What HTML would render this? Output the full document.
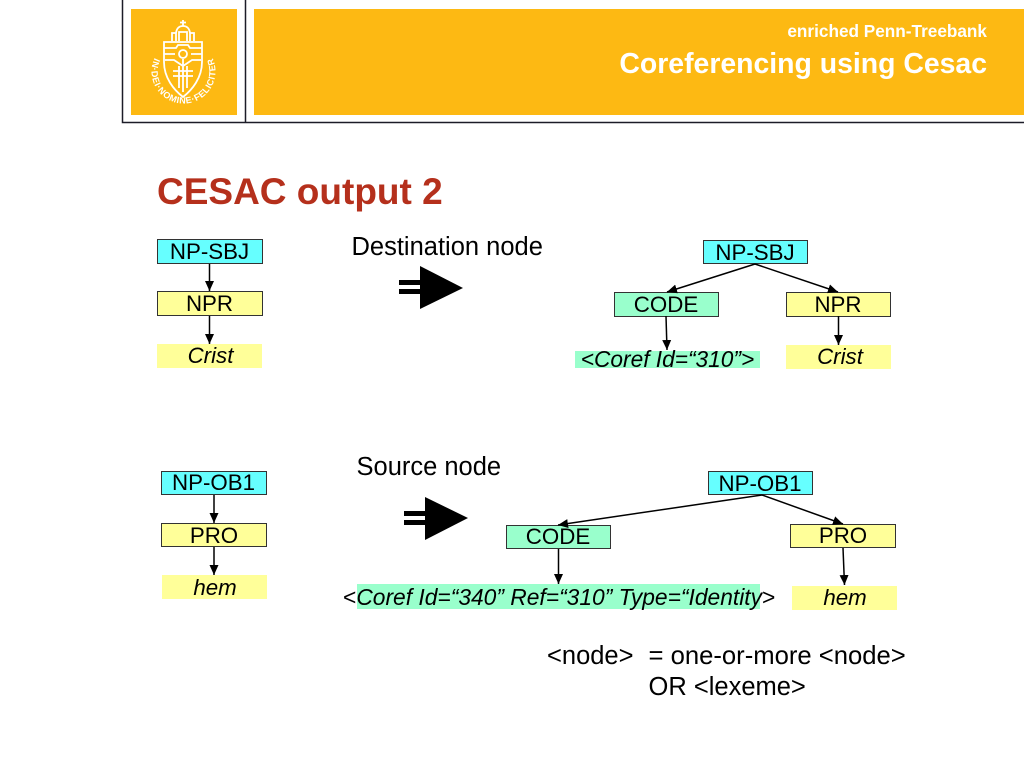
<!DOCTYPE html>
<html><head><meta charset="utf-8"><style>
html,body{margin:0;padding:0;background:#fff}
svg{display:block}
text{font-family:"Liberation Sans",sans-serif;fill:#000}
</style></head><body>
<svg width="1024" height="768" viewBox="0 0 1024 768" xmlns="http://www.w3.org/2000/svg">
<defs><marker id="a" markerWidth="12" markerHeight="12" refX="10" refY="5" orient="auto" markerUnits="userSpaceOnUse"><path d="M0 0.500L10 5L0 9.500Z" fill="#000"/></marker></defs>
<rect width="1024" height="768" fill="#fff"/>
<!-- header -->
<path d="M122.500 0V122.500H1024M245.500 0V122.500" fill="none" stroke="#1c1c28" stroke-width="1.500"/>
<rect x="131" y="9" width="106" height="106" fill="#fdb913"/>
<rect x="254" y="9" width="770" height="106" fill="#fdb913"/>
<!-- crest -->
<g fill="none" stroke="#fff" stroke-width="1.800">
<path d="M164 42H202V62C202 78 192 90 183 97C174 90 164 78 164 62Z"/>
<path d="M172 41V33H176V41M190 41V33H194V41M176 33Q177 26 183 26Q189 26 190 33M179 41V32H187V41"/>
<path d="M183 26V20M180 22.500H186"/>
<path d="M164 48H176L178 45H188L190 48H202M164 54H175M191 54H202M165 60H174L183 66L192 60H201M183 59V92M173 71H193M173 76H193M179 66V88M187 66V88"/>
<circle cx="183" cy="54" r="4"/>
</g>
<path id="ring" d="M155 57A32 32 0 1 0 212 57" fill="none"/>
<text font-size="9" font-weight="bold" style="fill:#fff"><textPath href="#ring" startOffset="1" textLength="128" lengthAdjust="spacing">IN·DEI·NOMINE·FELICITER</textPath></text>
<text x="987" y="37" font-size="17.200" font-weight="bold" text-anchor="end" style="fill:#fff">enriched Penn-Treebank</text>
<text x="987" y="73" font-size="28.400" font-weight="bold" text-anchor="end" style="fill:#fff">Coreferencing using Cesac</text>
<text x="157" y="204" font-size="37" font-weight="bold" style="fill:#b5301c">CESAC output 2</text>
<!-- fills -->
<g stroke="#333" stroke-width="1">
<rect x="157.500" y="239.500" width="105" height="24" fill="#66ffff"/>
<rect x="157.500" y="291.500" width="105" height="24" fill="#ffff99"/>
<rect x="703.500" y="240.500" width="104" height="23" fill="#66ffff"/>
<rect x="614.500" y="292.500" width="104" height="24" fill="#99ffcc"/>
<rect x="786.500" y="292.500" width="104" height="24" fill="#ffff99"/>
<rect x="161.500" y="471.500" width="105" height="23" fill="#66ffff"/>
<rect x="161.500" y="523.500" width="105" height="23" fill="#ffff99"/>
<rect x="708.500" y="471.500" width="104" height="23" fill="#66ffff"/>
<rect x="506.500" y="525.500" width="104" height="23" fill="#99ffcc"/>
<rect x="790.500" y="524.500" width="105" height="23" fill="#ffff99"/>
</g>
<rect x="157" y="344" width="105" height="24" fill="#ffff99"/>
<rect x="786" y="345" width="105" height="24" fill="#ffff99"/>
<rect x="575" y="351" width="185" height="17" fill="#99ffcc"/>
<rect x="162" y="575" width="105" height="24" fill="#ffff99"/>
<rect x="792" y="586" width="105" height="24" fill="#ffff99"/>
<rect x="357" y="584" width="403" height="25" fill="#99ffcc"/>
<!-- connectors -->
<g stroke="#000" stroke-width="1.500" fill="none">
<path d="M209.500 264V291" marker-end="url(#a)"/>
<path d="M209.500 316V344" marker-end="url(#a)"/>
<path d="M755 264L667 292" marker-end="url(#a)"/>
<path d="M755 264L838 292" marker-end="url(#a)"/>
<path d="M666 316L667 350" marker-end="url(#a)"/>
<path d="M838.500 316V345" marker-end="url(#a)"/>
<path d="M214 495V523" marker-end="url(#a)"/>
<path d="M214 547V575" marker-end="url(#a)"/>
<path d="M762 495L558 525" marker-end="url(#a)"/>
<path d="M762 495L843 524" marker-end="url(#a)"/>
<path d="M558.500 549V584" marker-end="url(#a)"/>
<path d="M843 548L844.500 585" marker-end="url(#a)"/>
</g>
<!-- block arrows -->
<path d="M420 266L463 288L420 309Z" fill="#000"/>
<rect x="399" y="280" width="22" height="5"/>
<rect x="399" y="289" width="22" height="5"/>
<path d="M425 497L468 518L425 540Z" fill="#000"/>
<rect x="404" y="511" width="22" height="5"/>
<rect x="404" y="520" width="22" height="5"/>
<!-- labels -->
<g font-size="22.300" text-anchor="middle">
<text x="209.500" y="259">NP-SBJ</text>
<text x="209.500" y="311">NPR</text>
<text x="210.500" y="363" font-style="italic">Crist</text>
<text x="755" y="260">NP-SBJ</text>
<text x="666" y="312">CODE</text>
<text x="838" y="312">NPR</text>
<text x="840" y="364" font-style="italic">Crist</text>
<text x="667.500" y="367" font-size="22.700" font-style="italic">&lt;Coref Id=“310”&gt;</text>
<text x="213.500" y="490">NP-OB1</text>
<text x="214" y="543">PRO</text>
<text x="215" y="595" font-style="italic">hem</text>
<text x="760" y="491">NP-OB1</text>
<text x="558" y="544">CODE</text>
<text x="843" y="543">PRO</text>
<text x="845" y="605" font-style="italic">hem</text>
</g>
<text x="343" y="605" font-size="22.800">&lt;<tspan font-style="italic">Coref Id=“340” Ref=“310” Type=“Identity</tspan>&gt;</text>
<g font-size="25.500">
<text x="351.500" y="255">Destination node</text>
<text x="356.500" y="475">Source node</text>
<text x="547" y="664">&lt;node&gt;</text>
<text x="648.500" y="664" font-size="25.650">= one-or-more &lt;node&gt;</text>
<text x="648.500" y="695">OR &lt;lexeme&gt;</text>
</g>
</svg>
</body></html>
